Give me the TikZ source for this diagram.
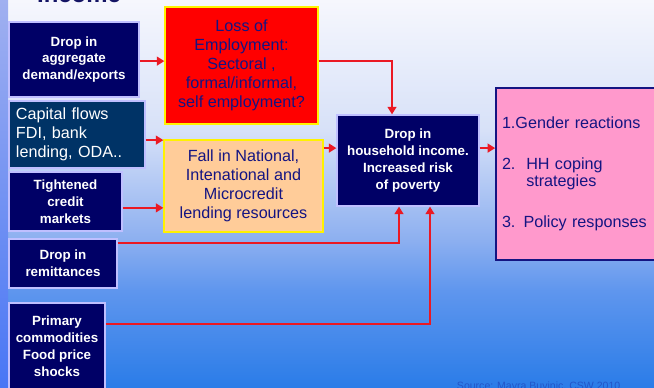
\documentclass[tikz,border=0pt]{standalone}
\usepackage{fontspec}
\setmainfont{Liberation Sans}
\usetikzlibrary{arrows.meta}

\definecolor{boxnavy}{RGB}{0,0,102}
\definecolor{boxteal}{RGB}{0,51,102}
\definecolor{txtnavy}{RGB}{20,20,130}
\definecolor{lossred}{RGB}{255,0,0}
\definecolor{fallpeach}{RGB}{255,204,153}
\definecolor{respink}{RGB}{255,153,204}
\definecolor{linkred}{RGB}{235,25,35}
\definecolor{titlenavy}{RGB}{20,20,100}
\definecolor{footblue}{RGB}{35,85,200}
\definecolor{stripA}{RGB}{160,176,240}
\definecolor{stripB}{RGB}{72,118,245}
\definecolor{bgA}{RGB}{246,247,253}
\definecolor{bgB}{RGB}{215,225,248}
\definecolor{bgC}{RGB}{140,175,240}
\definecolor{bgD}{RGB}{95,150,238}
\definecolor{bgE}{RGB}{42,124,232}
\pgfdeclareverticalshading{slidebg}{100bp}{color(0bp)=(bgE); color(25bp)=(bgE);
  color(37.6bp)=(bgD); color(44bp)=(bgC); color(58.2bp)=(bgB); color(75bp)=(bgA); color(100bp)=(bgA)}

\begin{document}
\begin{tikzpicture}[x=0.25mm, y=-0.25mm,
  navybox/.style={draw=white!75!blue, line width=0.3mm, fill=boxnavy, text=white,
    font=\bfseries\fontsize{9.5}{12}\selectfont, align=center, inner sep=0.5mm},
  tealbox/.style={draw=white!75!blue, line width=0.3mm, fill=boxteal, text=white,
    font=\fontsize{11.5}{13.5}\selectfont, align=left},
  lossbox/.style={draw=yellow, line width=0.3mm, fill=lossred, text=txtnavy,
    font=\fontsize{11.5}{13.5}\selectfont, align=center},
  fallbox/.style={draw=yellow, line width=0.3mm, fill=fallpeach, text=txtnavy,
    font=\fontsize{11.5}{13.5}\selectfont, align=center},
  pinkbox/.style={draw=txtnavy, line width=0.4mm, fill=respink, text=txtnavy,
    font=\fontsize{11.5}{12.5}\selectfont, align=left},
  flow/.style={draw=linkred, line width=0.5mm, -{Triangle[length=1.9mm,width=2.2mm]}}]
\clip (0,0) rectangle (654,388);
\shade[shading=slidebg] (0,0) rectangle (654,388);
\shade[top color=stripA, bottom color=stripB] (0,0) rectangle (8,388);

\node[font=\bfseries\fontsize{17}{17}\selectfont, text=titlenavy, anchor=base] (title) at (79,3) {Income};

\node[navybox, minimum width=32.5mm, minimum height=18.75mm] (agg) at (74,59.5) {Drop in\\aggregate\\demand/exports};
\node[lossbox, minimum width=38.25mm, minimum height=29.25mm] (loss) at (241.5,65.5) {Loss of\\Employment:\\Sectoral ,\\formal/informal,\\self employment?};
\node[tealbox, minimum width=34mm, minimum height=16.75mm, text width=30.5mm, inner xsep=1.75mm] (capital) at (77,134.5) {Capital flows\\FDI, bank\\lending, ODA..};
\node[fallbox, minimum width=39.75mm, minimum height=23mm] (fall) at (243.5,186) {Fall in National,\\Intenational and\\Microcredit\\lending resources};
\node[navybox, minimum width=28.25mm, minimum height=14.75mm] (credit) at (65.5,201.5) {Tightened\\credit\\markets};
\node[navybox, minimum width=27mm, minimum height=12.25mm] (remit) at (63,263.5) {Drop in\\remittances};
\node[navybox, minimum width=24mm, minimum height=21.75mm] (prim) at (57,346.5) {Primary\\commodities\\Food price\\shocks};
\node[navybox, minimum width=35.5mm, minimum height=22.75mm] (hh) at (408,160.5) {Drop in\\household income.\\Increased risk\\of poverty};
\node[pinkbox, minimum width=42mm, minimum height=43mm, text width=39mm, inner xsep=1.5mm] (resp) at (580,174)
  {1.Gender reactions\\[5.8mm]2.\ \ HH coping\\\phantom{2.\ \ }strategies\\[5.8mm]3. Policy responses};

\node[font=\fontsize{7.5}{7.5}\selectfont, text=footblue, anchor=base west] (src) at (452,389) {Source: Mayra Buvinic, CSW 2010};

% links
\draw[flow] ([yshift=-0.4mm]agg.east) -- ([yshift=-0.4mm]agg.east -| loss.west);
\draw[flow] ([yshift=1.1mm]loss.east) -| ([xshift=-4mm]hh.north);
\draw[flow] ([yshift=-1.4mm]capital.east) -- ([yshift=-1.4mm]capital.east -| fall.west);
\draw[flow] ([yshift=-1.6mm]credit.east) -- ([yshift=-1.6mm]credit.east -| fall.west);
\draw[flow] ([yshift=3.1mm]hh.west -| fall.east) -- ([yshift=3.1mm]hh.west);
\draw[flow] ([yshift=3.1mm]hh.east) -- ([yshift=3.1mm]hh.east -| resp.west);
\draw[flow] ([yshift=5.1mm]remit.east) -| ([xshift=-2.25mm]hh.south);
\draw[flow] ([yshift=5.6mm]prim.east) -| ([xshift=5.5mm]hh.south);
\end{tikzpicture}
\end{document}
